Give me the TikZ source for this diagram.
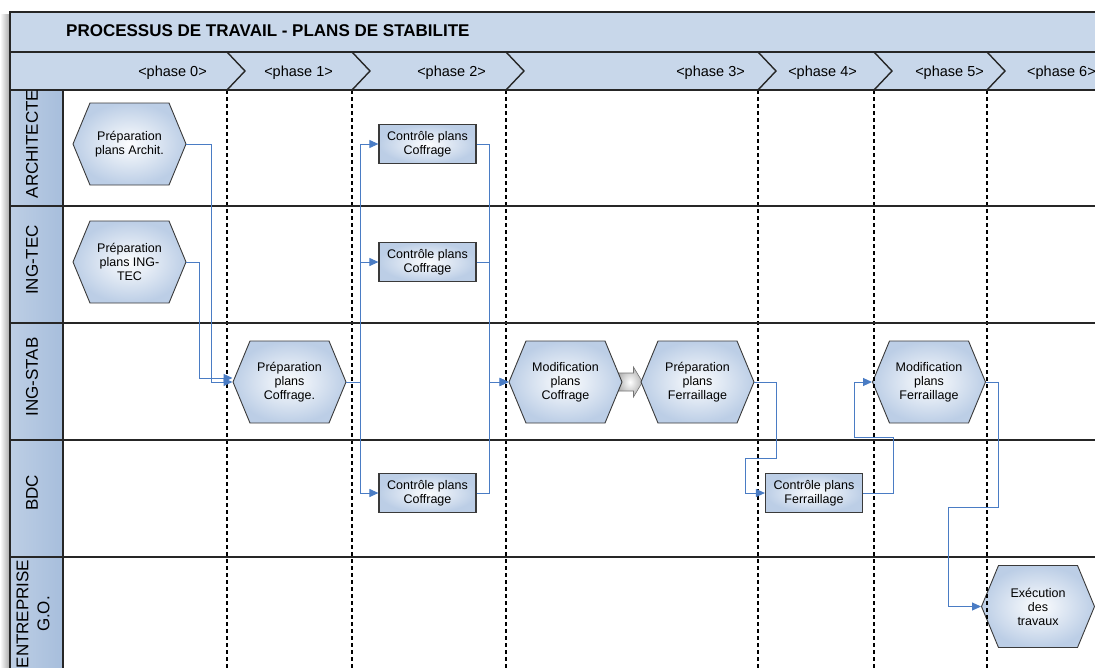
\documentclass[tikz,border=0pt]{standalone}
\usepackage{fontspec}
\setmainfont{Liberation Sans}
\usepackage{xcolor}
\definecolor{bandblue}{HTML}{C8D7EA}
\definecolor{laneblue}{HTML}{A7BEDC}
\definecolor{hexout}{HTML}{BCCEE6}
\definecolor{hexin}{HTML}{FCFDFE}
\definecolor{flowblue}{HTML}{4A7CC4}
\definecolor{edgegrey}{HTML}{3A3A3A}
\usepackage{tikz}
\usetikzlibrary{arrows.meta,shapes.symbols,backgrounds}

\tikzset{
  hexa/.style={signal, signal to=east and west, signal pointer angle=135,
    draw=edgegrey, line width=0.9pt, minimum width=113pt, minimum height=82pt,
    inner sep=0pt, align=center, font=\fontsize{12.5}{14}\selectfont,
    shading=radial, inner color=hexin, outer color=hexout},
  ctrlbox/.style={rectangle, draw=edgegrey, line width=1.2pt, minimum width=97pt,
    minimum height=39pt, inner sep=0pt, align=center, font=\fontsize{12.5}{14}\selectfont,
    shading=radial, inner color=hexin, outer color=hexout},
  lanetitle/.style={rotate=90, inner sep=0pt, align=center, font=\fontsize{17}{21}\selectfont},
  phasetext/.style={inner sep=0pt, font=\fontsize{14.5}{16}\selectfont},
  flow/.style={draw=flowblue, line width=1pt, -{Triangle[length=9pt,width=8pt]}},
  bigarrow/.style={draw=black!55, line width=0.6pt, shading=radial, inner color=white, outer color=black!30},
  phaseline/.style={line width=1.3pt, dash pattern=on 4pt off 3pt},
  laneline/.style={line width=1.4pt, draw=black!85},
}

\begin{document}
\begin{tikzpicture}[x=1pt,y=-1pt]
  \useasboundingbox (0,0) rectangle (1095,667);
  \clip (0,0) rectangle (1095,667);

  % shadow and header bands
  \fill[left color=white, right color=black!35] (0,14) rectangle (10,667);
  \fill[bandblue] (10,12) rectangle (1100,90);
  \fill[left color=laneblue!75!white, middle color=laneblue!45!white, right color=laneblue] (10,90) rectangle (63,670);

  % tasks
  \node[hexa] (pa) at (129.5,144) {Préparation\\plans Archit.};
  \node[hexa] (pi) at (129.5,262) {Préparation\\plans ING-\\TEC};
  \node[hexa] (pc) at (289.5,382) {Préparation\\plans\\Coffrage.};
  \node[ctrlbox] (ca) at (427.5,144) {Contrôle plans\\Coffrage};
  \node[ctrlbox] (ct) at (427.5,262) {Contrôle plans\\Coffrage};
  \node[ctrlbox] (cb) at (427.5,493) {Contrôle plans\\Coffrage};
  \node[hexa] (mc) at (565.5,382) {Modification\\plans\\Coffrage};
  \node[hexa] (pf) at (697.5,382) {Préparation\\plans\\Ferraillage};
  \node[ctrlbox] (cf) at (814,493) {Contrôle plans\\Ferraillage};
  \node[hexa] (mf) at (929,382) {Modification\\plans\\Ferraillage};
  \node[hexa] (ex) at (1038,606.5) {Exécution\\des\\travaux};

  \begin{scope}[on background layer]
    \draw[bigarrow] ([shift={(-5,-9)}]mc.east) -- ++(16,0) -- ++(0,-6) -- ++(9,15)
      -- ++(-9,15) -- ++(0,-6) -- ++(-16,0) -- cycle;
  \end{scope}

  % phases
  \foreach \px in {227,352,506,758,874,987} {
    \draw[phaseline] (\px,90) -- (\px,670);
    \draw[laneline] (\px,52) -- (\px+18,71) -- (\px,90);
  }

  % frame and lanes
  \draw[laneline] (1100,12) -- (10,12) -- (10,670);
  \foreach \ly in {52,90,206,323,440,557}
    \draw[laneline] (10,\ly) -- (1100,\ly);
  \draw[laneline] (63,90) -- (63,670);

  \node[anchor=west, inner sep=0pt, font=\fontsize{17}{19}\selectfont\bfseries] (title) at (66,31)
    {PROCESSUS DE TRAVAIL - PLANS DE STABILITE};
  \node[phasetext, anchor=base east] (ph0) at (207,76) {<phase 0>};
  \node[phasetext, anchor=base east] (ph1) at (333,76) {<phase 1>};
  \node[phasetext, anchor=base east] (ph2) at (486,76) {<phase 2>};
  \node[phasetext, anchor=base east] (ph3) at (745,76) {<phase 3>};
  \node[phasetext, anchor=base east] (ph4) at (857,76) {<phase 4>};
  \node[phasetext, anchor=base east] (ph5) at (984,76) {<phase 5>};
  \node[phasetext, anchor=base west] (ph6) at (1027,76) {<phase 6>};

  \node[lanetitle] (lArch) at (32,144) {ARCHITECTE};
  \node[lanetitle] (lTec) at (32,260) {ING-TEC};
  \node[lanetitle] (lStab) at (32,377) {ING-STAB};
  \node[lanetitle] (lBdc) at (32,493) {BDC};
  \node[lanetitle] (lEnt) at (33,614) {ENTREPRISE\\G.O.};

  % flows
  \draw[flow] (pa.east) -- ++(25,0) |- (pc.west);
  \draw[flow] (pi.east) -- ++(13,0) |- ([yshift=4pt]pc.west);
  \draw[flow] (pc.east) -- ++(14,0) |- (ca.west);
  \draw[flow] (pc.east) -- ++(14,0) |- (ct.west);
  \draw[flow] (pc.east) -- ++(14,0) |- (cb.west);
  \draw[flow] (ca.east) -- ++(13,0) |- (mc.west);
  \draw[flow] (ct.east) -- ++(13,0) |- (mc.west);
  \draw[flow] (cb.east) -- ++(13,0) |- (mc.west);
  \draw[flow] (pf.east) -- ++(22,0) -- ++(0,76) -- ++(-31,0) |- (cf.west);
  \draw[flow] (cf.east) -- ++(30,0) -- ++(0,-56) -- ++(-39,0) |- (mf.west);
  \draw[flow] (mf.east) -- ++(13,0) -- ++(0,125) -- ++(-50,0) |- (ex.west);
\end{tikzpicture}
\end{document}
